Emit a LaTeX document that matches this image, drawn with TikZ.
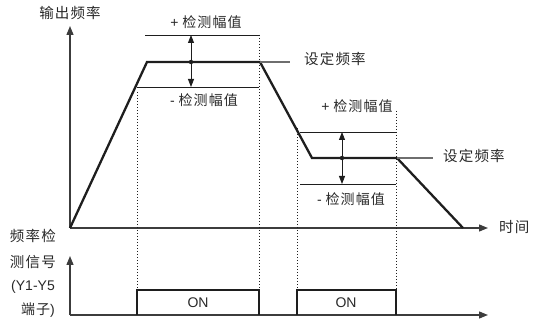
\documentclass[tikz,border=0pt]{standalone}
\usepackage{fontspec}
\setmainfont{Liberation Sans}
\newfontfamily\cjk[LetterSpace=8]{Noto Sans CJK SC}
\usepackage{xcolor}
\usepackage{tikz}
\usetikzlibrary{arrows.meta,positioning,calc}
\definecolor{fqedge}{RGB}{30,30,30}
\definecolor{fqaxis}{RGB}{60,60,60}
\definecolor{fqset}{RGB}{110,110,110}
\definecolor{fqink}{RGB}{40,40,40}
\tikzset{
  fqcurve/.style={draw=fqedge, line width=2.3pt, line join=miter},
  axis/.style={-{Triangle[length=9pt,width=7pt]}, draw=fqaxis, line width=1.4pt},
  band/.style={draw=fqedge, line width=0.9pt},
  setln/.style={draw=fqset, line width=1.1pt},
  marker/.style={draw=fqedge, dotted, line width=1pt},
  dbl/.style={{Triangle[length=8pt,width=6pt]}-{Triangle[length=8pt,width=6pt]}, draw=fqedge, line width=0.9pt},
  sig/.style={draw=fqedge, line width=2pt, line join=miter},
  cjklbl/.style={font=\cjk\fontsize{14.5}{16}\selectfont, text=fqink, inner sep=1pt},
  lbl/.style={font=\fontsize{14}{16}\selectfont, text=fqink, inner sep=1pt},
  every picture/.append style={line cap=butt}
}
\begin{document}
\begin{tikzpicture}[x=1pt,y=-1pt]
  \useasboundingbox (0,0) rectangle (541,323);
  % frequency axes
  \coordinate (o) at (70,228);
  \coordinate (ytop) at (70,26);
  \coordinate (xend) at (488,228);
  \draw[axis] (o) -- (ytop);
  \draw[axis] (o) -- (xend);
  \node[cjklbl] (fout) at (70,13) {输出频率};
  \node[cjklbl, anchor=west] (tlbl) at (498,227) {时间};
  % output frequency curve
  \coordinate (p1) at (147,62);
  \coordinate (p2) at (260,62);
  \coordinate (p3) at (312,158);
  \coordinate (p4) at (397,158);
  \coordinate (p5) at (463,228);
  \draw[fqcurve] (o) -- (p1) -- (p2) -- (p3) -- (p4) -- (p5);
  % first detection band
  \coordinate (a1) at (145,35);  \coordinate (a2) at (259,35);
  \coordinate (b1) at (137,87);  \coordinate (b2) at (259,87);
  \coordinate (s1) at (290,62);
  \coordinate (m1) at (191,35);  \coordinate (n1) at (191,87);
  \draw[band] (a1) -- (a2);
  \draw[band] (b1) -- (b2);
  \draw[setln] (p2) -- (s1);
  \draw[dbl] (m1) -- (n1);
  \fill[fqedge] (191,62) circle (2.2pt);
  \node[lbl] (up1) at (206,22) {+ {\cjk 检测幅值}};
  \node[lbl] (lo1) at (204,100) {- {\cjk 检测幅值}};
  \node[cjklbl, anchor=west] (set1) at (303,59) {设定频率};
  % second detection band
  \coordinate (c1) at (300,132); \coordinate (c2) at (396,132);
  \coordinate (d1) at (300,184); \coordinate (d2) at (396,184);
  \coordinate (s2) at (433,158);
  \coordinate (m2) at (342,132); \coordinate (n2) at (342,184);
  \draw[band] (c1) -- (c2);
  \draw[band] (d1) -- (d2);
  \draw[setln] (p4) -- (s2);
  \draw[dbl] (m2) -- (n2);
  \fill[fqedge] (342,158) circle (2.2pt);
  \node[lbl] (up2) at (357,106) {+ {\cjk 检测幅值}};
  \node[lbl] (lo2) at (351,199) {- {\cjk 检测幅值}};
  \node[cjklbl, anchor=west] (set2) at (442,156) {设定频率};
  % signal axes
  \coordinate (so) at (70,315);
  \coordinate (stop) at (70,256);
  \coordinate (send) at (488,315);
  \draw[axis] (so) -- (stop);
  \draw[axis] (so) -- (send);
  \node[cjklbl, anchor=east] (g1) at (57,236) {频率检};
  \node[cjklbl, anchor=east] (g2) at (57,262) {测信号};
  \node[lbl, anchor=east] (g3) at (56,287) {(Y1-Y5};
  \node[lbl, anchor=east] (g4) at (56,310) {{\cjk 端子})};
  % detection pulses
  \coordinate (q1) at (137,315); \coordinate (q2) at (137,290);
  \coordinate (q3) at (259,290); \coordinate (q4) at (259,315);
  \coordinate (r1) at (297,315); \coordinate (r2) at (297,290);
  \coordinate (r3) at (396,290); \coordinate (r4) at (396,315);
  \draw[sig] (q1) -- (q2) -- (q3) -- (q4);
  \draw[sig] (r1) -- (r2) -- (r3) -- (r4);
  \node[lbl] (on1) at (198,303) {ON};
  \node[lbl] (on2) at (346,303) {ON};
  % dotted markers
  \coordinate (t1) at (137,92);  \coordinate (t2) at (259,35);
  \coordinate (t3) at (297,128); \coordinate (t4) at (396,111);
  \draw[marker] (t1) -- (q2);
  \draw[marker] (t2) -- (q3);
  \draw[marker] (t3) -- (r2);
  \draw[marker] (t4) -- (r3);
\end{tikzpicture}
\end{document}
